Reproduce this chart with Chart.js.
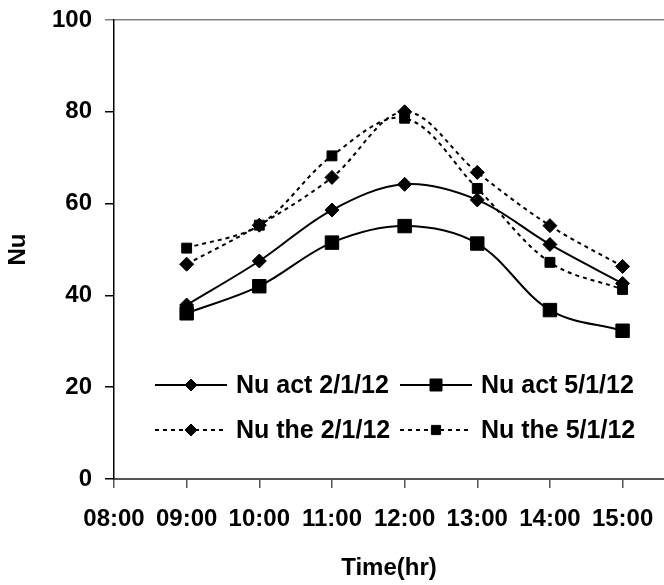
<!DOCTYPE html>
<html><head><meta charset="utf-8">
<script src="https://cdn.jsdelivr.net/npm/chart.js@4.4.1/dist/chart.umd.min.js"></script>
<style>html,body{margin:0;padding:0;background:#fff;overflow:hidden;}</style>
</head><body>
<canvas id="c" width="664" height="585"></canvas>
<script>
const timeLabels = ['08:00','09:00','10:00','11:00','12:00','13:00','14:00','15:00'];
const sampleTimes = ['09:00','10:00','11:00','12:00','13:00','14:00','15:00'];
const nuAct2 = [37.9, 47.5, 58.6, 64.2, 60.8, 51.1, 42.6];
const nuAct5 = [36.1, 42.0, 51.5, 55.1, 51.3, 36.8, 32.3];
const nuThe2 = [46.8, 55.3, 65.7, 80.0, 66.8, 55.2, 46.3];
const nuThe5 = [50.3, 55.3, 70.4, 78.6, 63.3, 47.2, 41.3];
const seriesLabels = ['Nu act 2/1/12','Nu act 5/1/12','Nu the 2/1/12','Nu the 5/1/12'];

function pts(vals){ return vals.map((v,i)=>({x: timeLabels.indexOf(sampleTimes[i]), y: v})); }

const FONT = {family: "'Liberation Sans', Arial, sans-serif", size: 24, weight: 'bold'};

function mkDs(label, vals, style, radius, dashed, legendRadius){
  return {label, data: pts(vals), borderColor:'#000', backgroundColor:'#000',
    borderWidth: 2, borderDash: dashed ? [4,4] : [], tension: 0.35,
    pointStyle: style, pointRadius: radius, pointHoverRadius: radius,
    pointBorderWidth: 1, pointBorderColor:'#000', pointBackgroundColor:'#000',
    legendRadius, fill:false};
}

function marker(ctx, style, x, y, r){
  ctx.beginPath();
  if (style === 'rectRot'){
    ctx.moveTo(x-r,y); ctx.lineTo(x,y-r); ctx.lineTo(x+r,y); ctx.lineTo(x,y+r);
  } else {
    const s = r*Math.SQRT1_2; ctx.rect(x-s,y-s,2*s,2*s);
  }
  ctx.closePath(); ctx.fillStyle='#000'; ctx.fill();
  ctx.lineWidth=1; ctx.strokeStyle='#000'; ctx.stroke();
}

const legendPlugin = {
  id:'inlegend',
  afterDraw(chart){
    const ctx = chart.ctx;
    const colX = [155, 400], rowY = [385, 430], lineLen = 72;
    ctx.save();
    chart.data.datasets.forEach((ds,i)=>{
      const cx = colX[i%2], cy = rowY[Math.floor(i/2)];
      ctx.beginPath();
      ctx.setLineDash(ds.borderDash);
      ctx.lineWidth = 2; ctx.strokeStyle='#000';
      ctx.moveTo(cx, cy); ctx.lineTo(cx+lineLen, cy); ctx.stroke();
      ctx.setLineDash([]);
      marker(ctx, ds.pointStyle, cx+lineLen/2, cy, ds.legendRadius);
      ctx.fillStyle='#000';
      ctx.font = 'bold 25px "Liberation Sans", Arial, sans-serif';
      ctx.textBaseline='middle'; ctx.textAlign='left';
      ctx.fillText(ds.label, cx+lineLen+9, cy+1);
    });
    ctx.restore();
  }
};

new Chart(document.getElementById('c'), {
  type:'line',
  data:{ datasets:[
    mkDs(seriesLabels[0], nuAct2, 'rectRot', 7, false, 6),
    mkDs(seriesLabels[1], nuAct5, 'rect', 9.5, false, 8.5),
    mkDs(seriesLabels[2], nuThe2, 'rectRot', 7, true, 6),
    mkDs(seriesLabels[3], nuThe5, 'rect', 7, true, 6.5)
  ]},
  options:{
    responsive:false, animation:false, devicePixelRatio:1,
    layout:{autoPadding:false, padding:{top:20,right:0,left:0,bottom:0}},
    plugins:{legend:{display:false}, tooltip:{enabled:false}},
    scales:{
      x:{type:'linear', min:0, max:7.57, bounds:'data',
        border:{display:true, color:'#555', width:2},
        grid:{drawOnChartArea:false, drawTicks:true, tickLength:9, color:'#555', tickColor:'#555', lineWidth:1.5},
        ticks:{stepSize:1, includeBounds:false, autoSkip:false, maxRotation:0, padding:17, color:'#000', font:FONT,
          callback:(v)=> Number.isInteger(v) ? timeLabels[v] : null},
        title:{display:true, text:'Time(hr)', color:'#000', font:FONT, padding:{top:20,bottom:2}},
        afterFit:(s)=>{ s.height = 106; s.paddingLeft = 0; s.paddingRight = 0; }
      },
      y:{min:0, max:100,
        border:{display:true, color:'#000', width:1.5},
        grid:{drawOnChartArea:true, drawTicks:true, tickLength:9,
          color:(c)=> c.tick && c.tick.value===100 ? '#808080' : 'rgba(0,0,0,0)',
          tickColor:(c)=> c.tick && c.tick.value===100 ? '#808080' : '#000', lineWidth:1.5},
        ticks:{stepSize:20, padding:13, color:'#000', font:FONT},
        title:{display:true, text:'Nu', color:'#000', font:FONT, padding:{top:4,bottom:0}},
        afterFit:(s)=>{ s.width = 114; s.paddingTop = 0; s.paddingBottom = 0; }
      }
    }
  },
  plugins:[legendPlugin]
});
</script>
</body></html>
